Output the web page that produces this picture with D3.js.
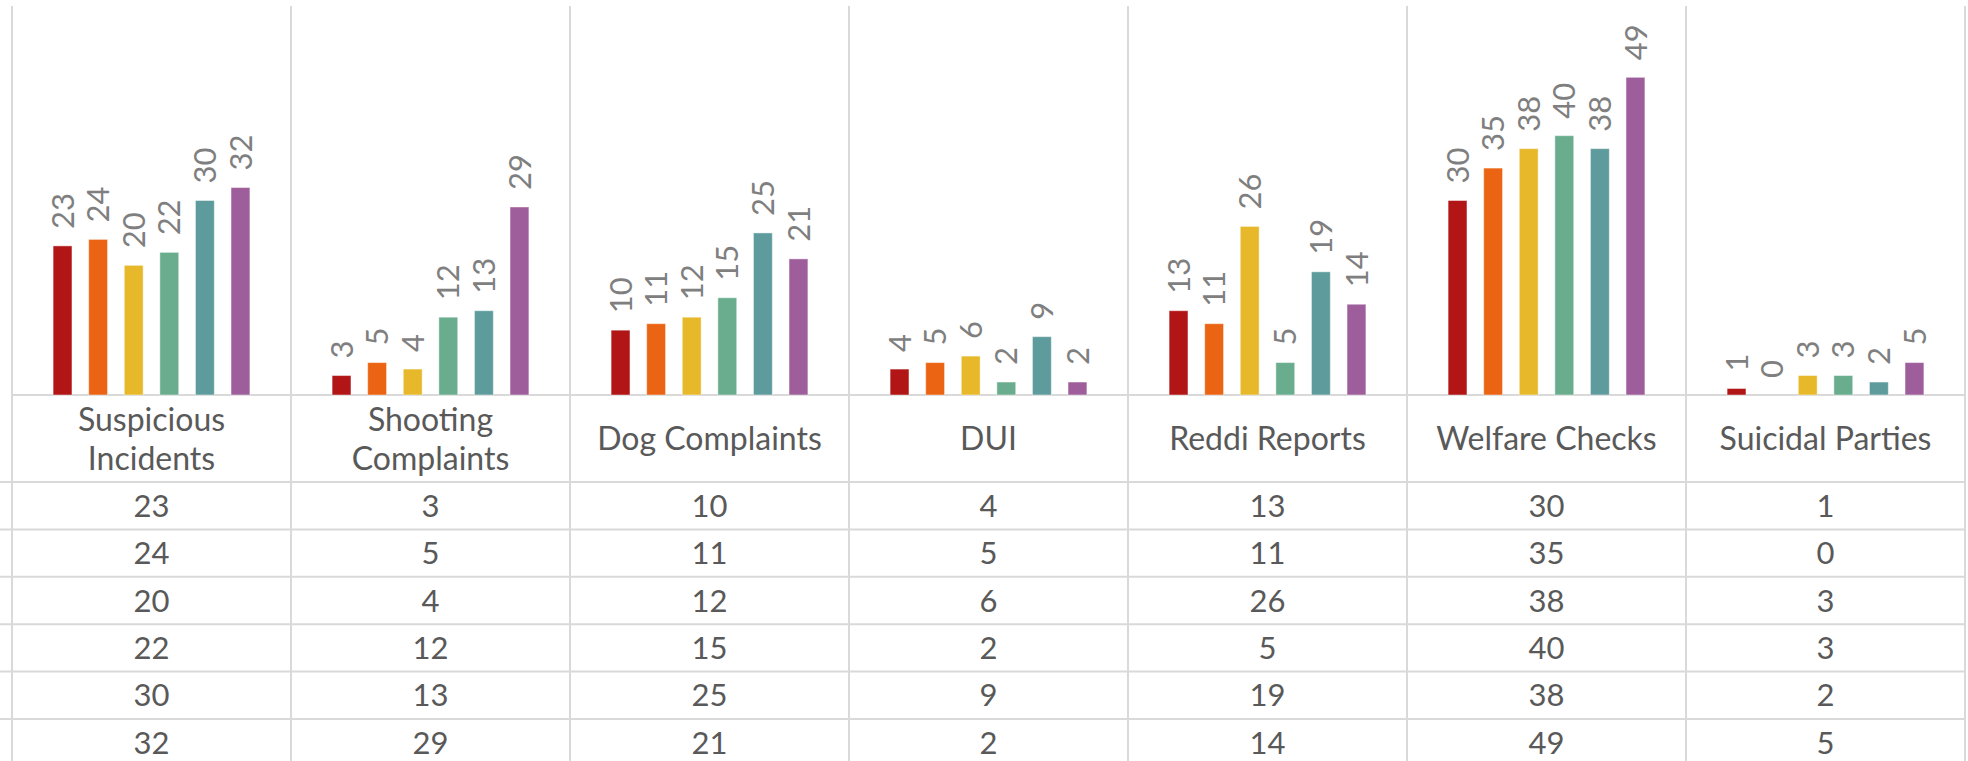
<!DOCTYPE html>
<html>
<head>
<meta charset="utf-8">
<script src="https://cdn.jsdelivr.net/npm/d3@7"></script>
<style>
  body { margin: 0; background: #fff; overflow: hidden; }
  text { font-family: "Century Gothic", Lato, "DejaVu Sans", sans-serif; }
</style>
</head>
<body>
<svg id="chart" width="1968" height="761"></svg>
<script>
// categories and series
var categories = ["Suspicious Incidents", "Shooting Complaints", "Dog Complaints", "DUI",
                  "Reddi Reports", "Welfare Checks", "Suicidal Parties"];
var series = ["s1", "s2", "s3", "s4", "s5", "s6"];

// one array per series (table row), same order as categories
var row1 = [23, 3, 10, 4, 13, 30, 1];
var row2 = [24, 5, 11, 5, 11, 35, 0];
var row3 = [20, 4, 12, 6, 26, 38, 3];
var row4 = [22, 12, 15, 2, 5, 40, 3];
var row5 = [30, 13, 25, 9, 19, 38, 2];
var row6 = [32, 29, 21, 2, 14, 49, 5];
var values = [row1, row2, row3, row4, row5, row6];

var colors = ["#b11516", "#ea6413", "#e6b82a", "#69ad8e", "#5e9b9d", "#9e5e9b"];

var W = 1968, H = 761;
var baseY = 395, topY = 6;
var headerBottom = 482, rowH = 47.4;
var headSize = 32, numSize = 31;

var svg = d3.select("#chart");

var x = d3.scaleBand()
    .domain(categories)
    .range([12, 1965]);

var xs = d3.scaleBand()
    .domain(series)
    .range([0, x.bandwidth()])
    .paddingInner(0.47)
    .paddingOuter(1.155);

var y = d3.scaleLinear()
    .domain([0, 60])
    .range([baseY, topY]);

var grid = svg.append("g");

// vertical lines at category edges
var edges = categories.map(function(c) { return x(c); });
edges.push(x.range()[1]);
grid.selectAll("line.v")
  .data(edges)
  .enter()
  .append("line")
    .attr("x1", function(d) { return d; })
    .attr("x2", function(d) { return d; })
    .attr("y1", topY)
    .attr("y2", H)
    .attr("stroke", "#d9d9d9")
    .attr("stroke-width", 2);

// axis line
grid.append("line")
    .attr("x1", x.range()[0])
    .attr("x2", x.range()[1])
    .attr("y1", baseY)
    .attr("y2", baseY)
    .attr("stroke", "#d9d9d9")
    .attr("stroke-width", 2);

// table row lines
var rowLines = d3.range(series.length + 1).map(function(i) { return headerBottom + i * rowH; });
grid.selectAll("line.h")
  .data(rowLines)
  .enter()
  .append("line")
    .attr("x1", 0)
    .attr("x2", x.range()[1])
    .attr("y1", function(d) { return d; })
    .attr("y2", function(d) { return d; })
    .attr("stroke", "#d9d9d9")
    .attr("stroke-width", 2);

// bars
series.forEach(function(s, si) {
  var g = svg.append("g");
  var rows = categories.map(function(c, ci) { return {cat: c, v: values[si][ci]}; });

  g.selectAll("rect")
    .data(rows.filter(function(d) { return d.v > 0; }))
    .enter()
    .append("rect")
      .attr("x", function(d) { return x(d.cat) + xs(s); })
      .attr("y", function(d) { return y(d.v); })
      .attr("width", xs.bandwidth())
      .attr("height", function(d) { return baseY - y(d.v); })
      .attr("fill", colors[si])
      .attr("stroke", "#ffffff")
      .attr("stroke-opacity", 0.45)
      .attr("stroke-width", 1);

  // rotated data labels
  g.selectAll("text")
    .data(rows)
    .enter()
    .append("text")
      .attr("transform", function(d) {
        var cx = x(d.cat) + xs(s) + xs.bandwidth() / 2;
        return "translate(" + cx + "," + (y(d.v) - 17) + ") rotate(-90)";
      })
      .attr("dy", "0.36em")
      .attr("text-anchor", "start")
      .attr("fill", "#7f7f7f")
      .style("font-size", numSize + "px")
      .text(function(d) { return d.v; });
});

// category header, wrapped like the table cell does
var header = svg.append("g");
categories.forEach(function(c) {
  var cx = x(c) + x.bandwidth() / 2;
  var t = header.append("text")
      .attr("x", cx)
      .attr("text-anchor", "middle")
      .attr("fill", "#595959")
      .style("font-size", headSize + "px")
      .text(c);
  var lines = [c];
  if (t.node().getComputedTextLength() > x.bandwidth() - 12) {
    lines = c.split(" ");
  }
  t.text(null);
  var lh = 39;
  var mid = (baseY + headerBottom) / 2;
  var first = mid - (lines.length - 1) * lh / 2;
  lines.forEach(function(l, i) {
    t.append("tspan")
      .attr("x", cx)
      .attr("y", first + i * lh)
      .attr("dy", "0.36em")
      .text(l);
  });
});

// table values
var table = svg.append("g");
series.forEach(function(s, si) {
  var cy = headerBottom + si * rowH + rowH / 2;
  table.selectAll("text.r" + si)
    .data(values[si])
    .enter()
    .append("text")
      .attr("x", function(d, ci) { return x(categories[ci]) + x.bandwidth() / 2; })
      .attr("y", cy)
      .attr("dy", "0.36em")
      .attr("text-anchor", "middle")
      .attr("fill", "#595959")
      .style("font-size", numSize + "px")
      .text(function(d) { return d; });
});
</script>
</body>
</html>
